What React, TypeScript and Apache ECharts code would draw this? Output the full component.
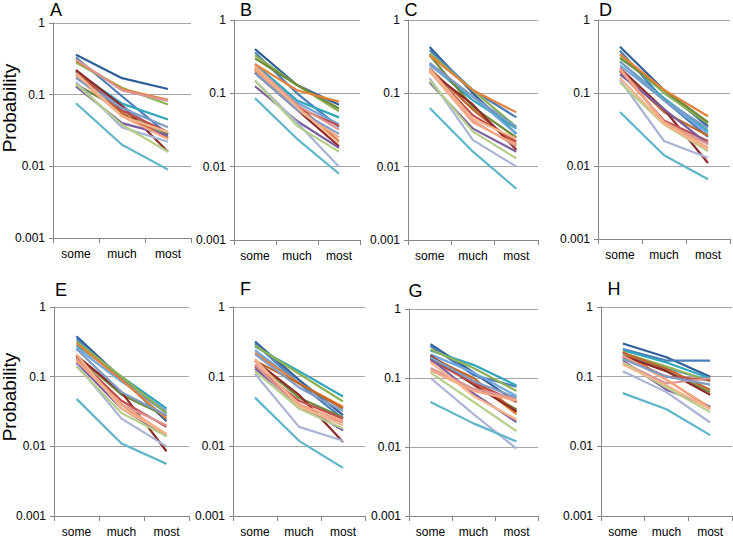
import React, { useEffect, useRef } from "react";
import * as echarts from "echarts";

const categories = ["some", "much", "most"];
const panelNames = ["A", "B", "C", "D", "E", "F", "G", "H"];
const yTicks = [0.001, 0.01, 0.1, 1];
const yName = "Probability";

const seriesColors = [
  "#2F5F98", "#4A7EBB", "#31A5BA", "#6FA8DC", "#8DB255", "#6E8B3D",
  "#E3823A", "#C0662A", "#8E2A2A", "#C0504D", "#7A5CA0", "#D99694",
  "#F4A582", "#A9B4D6", "#B5CF8A", "#5FB5C9", "#7F9CC4", "#F7B48A",
];

const panelA = [
  [0.36, 0.17, 0.12], [0.33, 0.095, 0.028], [0.21, 0.075, 0.045], [0.19, 0.07, 0.025],
  [0.28, 0.125, 0.073], [0.14, 0.06, 0.028], [0.3, 0.12, 0.085], [0.22, 0.055, 0.025],
  [0.22, 0.07, 0.016], [0.2, 0.06, 0.03], [0.13, 0.04, 0.027], [0.31, 0.115, 0.082],
  [0.18, 0.05, 0.024], [0.15, 0.035, 0.022], [0.14, 0.038, 0.016], [0.076, 0.02, 0.009],
  [0.17, 0.065, 0.035], [0.2, 0.05, 0.03],
];
const panelB = [
  [0.4, 0.13, 0.07], [0.36, 0.1, 0.035], [0.25, 0.08, 0.047], [0.22, 0.075, 0.038],
  [0.33, 0.13, 0.057], [0.3, 0.13, 0.062], [0.25, 0.11, 0.077], [0.22, 0.07, 0.022],
  [0.19, 0.06, 0.019], [0.2, 0.065, 0.036], [0.125, 0.042, 0.018], [0.24, 0.07, 0.032],
  [0.21, 0.06, 0.025], [0.15, 0.04, 0.01], [0.15, 0.036, 0.016], [0.086, 0.024, 0.008],
  [0.19, 0.06, 0.028], [0.23, 0.065, 0.021],
];
const panelC = [
  [0.43, 0.1, 0.028], [0.39, 0.11, 0.047], [0.25, 0.08, 0.033], [0.24, 0.09, 0.028],
  [0.35, 0.11, 0.035], [0.33, 0.065, 0.025], [0.33, 0.11, 0.055], [0.22, 0.06, 0.02],
  [0.2, 0.07, 0.017], [0.21, 0.05, 0.022], [0.14, 0.033, 0.016], [0.22, 0.042, 0.019],
  [0.2, 0.04, 0.02], [0.16, 0.023, 0.01], [0.15, 0.03, 0.013], [0.063, 0.016, 0.005],
  [0.26, 0.09, 0.035], [0.21, 0.045, 0.024],
];
const panelD = [
  [0.43, 0.11, 0.035], [0.38, 0.08, 0.025], [0.27, 0.085, 0.03], [0.24, 0.08, 0.028],
  [0.33, 0.1, 0.038], [0.3, 0.11, 0.04], [0.34, 0.11, 0.048], [0.2, 0.055, 0.026],
  [0.22, 0.06, 0.011], [0.2, 0.042, 0.022], [0.18, 0.06, 0.02], [0.22, 0.04, 0.02],
  [0.21, 0.04, 0.018], [0.15, 0.022, 0.013], [0.14, 0.037, 0.016], [0.055, 0.014, 0.0066],
  [0.27, 0.08, 0.033], [0.16, 0.038, 0.017],
];
const panelE = [
  [0.38, 0.095, 0.023], [0.35, 0.09, 0.03], [0.28, 0.1, 0.035], [0.26, 0.085, 0.033],
  [0.32, 0.1, 0.03], [0.2, 0.055, 0.027], [0.3, 0.09, 0.025], [0.2, 0.04, 0.014],
  [0.2, 0.06, 0.0085], [0.19, 0.045, 0.019], [0.16, 0.035, 0.014], [0.18, 0.04, 0.02],
  [0.17, 0.04, 0.015], [0.15, 0.025, 0.01], [0.14, 0.03, 0.014], [0.048, 0.011, 0.0056],
  [0.25, 0.06, 0.028], [0.21, 0.035, 0.015],
];
const panelF = [
  [0.32, 0.09, 0.028], [0.3, 0.08, 0.025], [0.27, 0.12, 0.052], [0.24, 0.08, 0.035],
  [0.28, 0.11, 0.044], [0.17, 0.05, 0.026], [0.22, 0.08, 0.037], [0.17, 0.08, 0.035],
  [0.17, 0.055, 0.0115], [0.14, 0.045, 0.025], [0.13, 0.04, 0.017], [0.15, 0.035, 0.022],
  [0.17, 0.04, 0.023], [0.11, 0.019, 0.012], [0.12, 0.035, 0.018], [0.05, 0.012, 0.0049],
  [0.21, 0.07, 0.032], [0.18, 0.038, 0.02],
];
const panelG = [
  [0.31, 0.12, 0.045], [0.29, 0.11, 0.075], [0.25, 0.155, 0.078], [0.22, 0.12, 0.055],
  [0.26, 0.14, 0.065], [0.2, 0.08, 0.035], [0.21, 0.09, 0.03], [0.2, 0.1, 0.032],
  [0.21, 0.08, 0.033], [0.18, 0.085, 0.045], [0.19, 0.06, 0.023], [0.14, 0.07, 0.05],
  [0.13, 0.065, 0.047], [0.1, 0.03, 0.0095], [0.12, 0.045, 0.017], [0.045, 0.022, 0.012],
  [0.2, 0.09, 0.052], [0.17, 0.055, 0.025],
];
const panelH = [
  [0.3, 0.19, 0.1], [0.25, 0.17, 0.17], [0.24, 0.16, 0.095], [0.21, 0.13, 0.09],
  [0.22, 0.14, 0.085], [0.2, 0.12, 0.06], [0.23, 0.09, 0.036], [0.22, 0.13, 0.065],
  [0.2, 0.12, 0.055], [0.19, 0.1, 0.09], [0.17, 0.065, 0.037], [0.16, 0.08, 0.095],
  [0.2, 0.09, 0.035], [0.12, 0.06, 0.022], [0.16, 0.07, 0.031], [0.058, 0.034, 0.0145],
  [0.18, 0.1, 0.077], [0.15, 0.075, 0.034],
];
const panels = [panelA, panelB, panelC, panelD, panelE, panelF, panelG, panelH];

// layout (pixels)
const gridBoxes = [
  { left: 53, top: 23, width: 138, height: 215 },
  { left: 234, top: 20, width: 126, height: 220 },
  { left: 408, top: 20, width: 130, height: 220 },
  { left: 598, top: 20, width: 132, height: 219 },
  { left: 54, top: 307, width: 135, height: 209 },
  { left: 233, top: 307, width: 132, height: 209 },
  { left: 409, top: 309, width: 129, height: 207 },
  { left: 601, top: 307, width: 131, height: 210 },
];
const letterPos = [
  [56, 9.5], [246, 9.5], [411, 10], [605.5, 10],
  [61, 289.5], [245.5, 289], [415.5, 290.5], [614, 289],
];
const yNamePos = [[9, 108], [9, 397]];

const FONT = "'Liberation Sans', Arial, sans-serif";

export default function App() {
  const ref = useRef<HTMLDivElement>(null);
  useEffect(() => {
    if (!ref.current) return;
    const chart = echarts.init(ref.current, null, { renderer: "svg" });
    const grid = gridBoxes.map((g) => ({ ...g, containLabel: false }));
    const xAxis = gridBoxes.map((_, i) => ({
      type: "category",
      gridIndex: i,
      data: categories,
      boundaryGap: true,
      axisLine: { show: true, lineStyle: { color: "#868686", width: 1 } },
      axisTick: { show: true, length: 5, lineStyle: { color: "#868686" } },
      axisLabel: { fontSize: 12, color: "#000", margin: 10, fontFamily: FONT },
      splitLine: { show: false },
    }));
    const yAxis = gridBoxes.map((_, i) => ({
      type: "log",
      logBase: 10,
      gridIndex: i,
      min: yTicks[0],
      max: yTicks[yTicks.length - 1],
      axisLine: { show: true, lineStyle: { color: "#868686", width: 1 } },
      axisTick: { show: true, length: 4, lineStyle: { color: "#868686" } },
      minorTick: { show: false },
      axisLabel: {
        fontSize: 12,
        color: "#000",
        margin: 8,
        fontFamily: FONT,
        formatter: (v: number) => {
          const t = yTicks.find((k) => Math.abs(Math.log10(k) - Math.log10(v)) < 1e-6);
          return t !== undefined ? String(t) : "";
        },
      },
      splitLine: { show: true, lineStyle: { color: "#A6A6A6", width: 1 } },
    }));
    const series: any[] = [];
    panels.forEach((panel, pi) => {
      panel.forEach((vals, si) => {
        series.push({
          type: "line",
          name: `${panelNames[pi]}-${si + 1}`,
          xAxisIndex: pi,
          yAxisIndex: pi,
          data: vals,
          showSymbol: false,
          symbol: "none",
          lineStyle: { color: seriesColors[si], width: 2.2 },
          itemStyle: { color: seriesColors[si] },
        });
      });
    });
    const graphic: any[] = [];
    panelNames.forEach((n, i) => {
      graphic.push({
        type: "text",
        x: letterPos[i][0],
        y: letterPos[i][1],
        style: {
          text: n,
          fontSize: 18,
          fontFamily: FONT,
          fill: "#000",
          align: "center",
          verticalAlign: "middle",
        },
      });
    });
    yNamePos.forEach((p) => {
      graphic.push({
        type: "text",
        x: p[0],
        y: p[1],
        rotation: Math.PI / 2,
        style: {
          text: yName,
          fontSize: 19,
          fontFamily: FONT,
          fill: "#000",
          align: "center",
          verticalAlign: "middle",
        },
      });
    });
    chart.setOption({
      animation: false,
      backgroundColor: "#fff",
      grid,
      xAxis,
      yAxis,
      series,
      graphic,
    });
    return () => chart.dispose();
  }, []);
  return (
    <div
      ref={ref}
      style={{ position: "fixed", left: 0, top: 0, width: 733, height: 538 }}
    />
  );
}
